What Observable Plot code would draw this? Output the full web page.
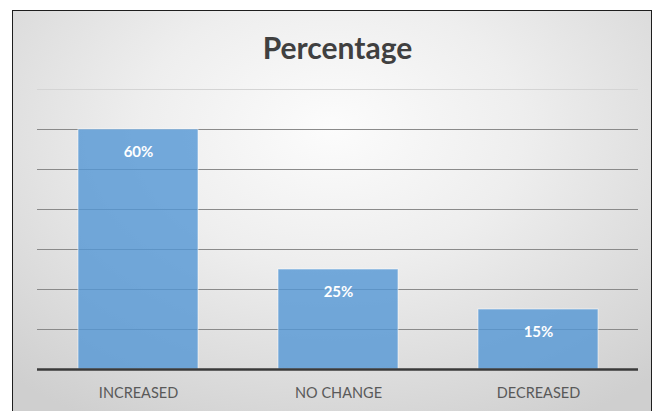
<!DOCTYPE html>
<html>
<head>
<meta charset="utf-8">
<script src="https://cdn.jsdelivr.net/npm/d3@7"></script>
<script src="https://cdn.jsdelivr.net/npm/@observablehq/plot@0.6"></script>
<style>
  html, body { margin: 0; padding: 0; width: 660px; height: 411px; overflow: hidden; background: #ffffff; }
  #frame {
    position: absolute; left: 12px; top: 10px; width: 638px; height: 420px;
    border: 1px solid #1e1e1e; border-bottom: none;
    background: radial-gradient(ellipse 75% 80% at 50% 28%, #fcfcfc 0%, #eeeeee 40%, #dcdcdc 75%, #cfcfcf 100%);
  }
  #title {
    position: absolute; left: 37px; top: 32px; width: 601px; text-align: center;
    font-family: Lato, sans-serif; font-weight: bold; font-size: 30px; line-height: 30px; color: #404040;
  }
  #chart { position: absolute; left: 0; top: 70px; }
</style>
</head>
<body>
<div id="frame"></div>
<div id="title">Percentage</div>
<div id="chart"></div>
<script>
const categories = ["INCREASED", "NO CHANGE", "DECREASED"];
const values = [60, 25, 15];
const valueLabels = ["60%", "25%", "15%"];
const gridTicks = [10, 20, 30, 40, 50, 60, 70];

const rows = categories.map((c, i) => ({category: c, value: values[i], label: valueLabels[i]}));

const chart = Plot.plot({
  width: 660,
  height: 341,
  marginLeft: 37,
  marginRight: 22,
  marginTop: 19,
  marginBottom: 42,
  style: {fontFamily: "Lato, sans-serif", fontSize: "14px", color: "#595959", background: "transparent", overflow: "visible"},
  x: {domain: categories, paddingInner: 0.4, paddingOuter: 0.2, label: null},
  y: {domain: [0, 70], axis: null},
  marks: [
    Plot.ruleY(gridTicks, {stroke: d => d === 70 ? "#d4d4d4" : "#8a8a8a", strokeWidth: 1}),
    Plot.barY(rows, {x: "category", y: "value", fill: "#5396d5", fillOpacity: 0.8, stroke: "#ffffff", strokeOpacity: 0.55, strokeWidth: 1}),
    Plot.ruleY([0], {stroke: "#3a3a3a", strokeWidth: 2.5}),
    Plot.text(rows, {x: "category", y: "value", text: "label", dy: 23, fill: "#ffffff", fontWeight: "bold", fontSize: 15}),
    Plot.axisX({tickSize: 0, tickPadding: 18, fontSize: 14.5, label: null})
  ]
});
chart.style.overflow = "visible";
document.getElementById("chart").append(chart);
</script>
</body>
</html>
